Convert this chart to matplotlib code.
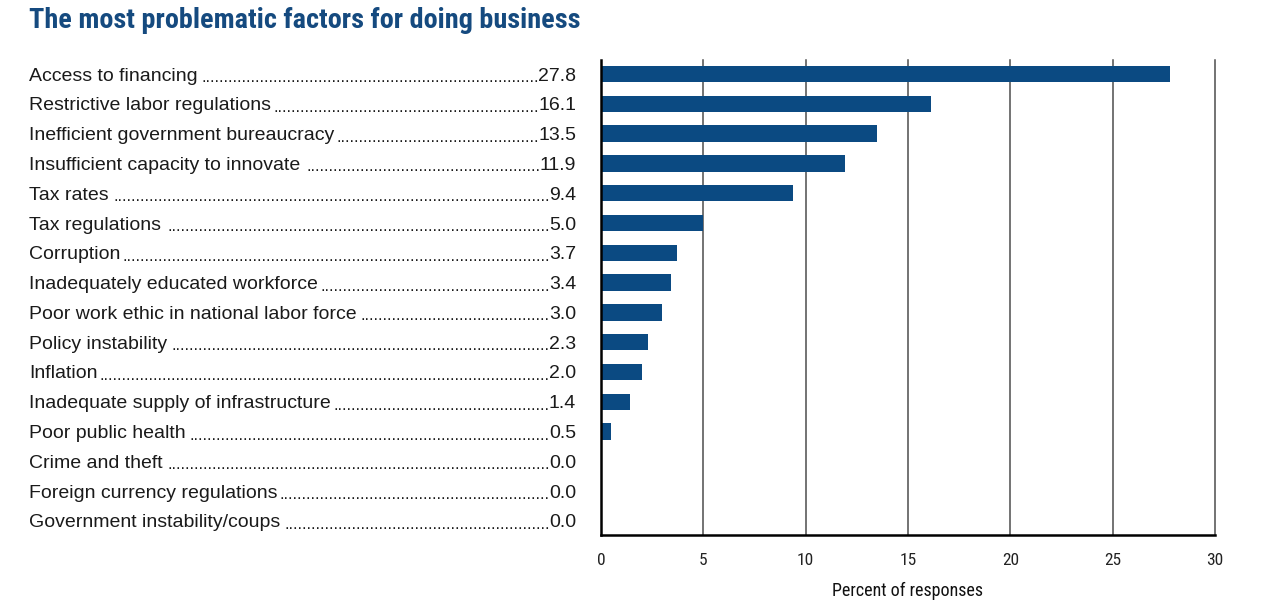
import matplotlib
matplotlib.use("Agg")
import matplotlib.pyplot as plt
from matplotlib import font_manager as fm

categories = [
    "Access to financing",
    "Restrictive labor regulations",
    "Inefficient government bureaucracy",
    "Insufficient capacity to innovate",
    "Tax rates",
    "Tax regulations",
    "Corruption",
    "Inadequately educated workforce",
    "Poor work ethic in national labor force",
    "Policy instability",
    "Inflation",
    "Inadequate supply of infrastructure",
    "Poor public health",
    "Crime and theft",
    "Foreign currency regulations",
    "Government instability/coups",
]
values = [27.8, 16.1, 13.5, 11.9, 9.4, 5.0, 3.7, 3.4, 3.0, 2.3, 2.0, 1.4, 0.5, 0.0, 0.0, 0.0]
x_ticks = [0, 5, 10, 15, 20, 25, 30]

names = {f.name for f in fm.fontManager.ttflist}
if "Liberation Sans Narrow" in names:
    narrow = dict(fontfamily="Liberation Sans Narrow")
elif "Roboto Condensed" in names:
    narrow = dict(fontfamily="Roboto Condensed")
else:
    narrow = dict(fontfamily="DejaVu Sans", fontstretch="condensed")
regular = "Liberation Sans"

BLUE = "#0b4a82"
TXT = "#1a1a1a"
W, H = 1280, 616
fig = plt.figure(figsize=(W / 100, H / 100), dpi=100)
ax = fig.add_axes([601 / W, 1 - 535 / H, (1215 - 601) / W, (535 - 60) / H])

n = len(categories)
ys = list(range(n))
ax.barh(ys, values, height=0.55, color=BLUE, zorder=3)
ax.set_xlim(0, 30)
ax.set_ylim(n - 0.53, -0.47)
ax.set_xticks(x_ticks)
ax.set_xticklabels([str(t) for t in x_ticks], fontsize=12.5, color="#222222", **narrow)
ax.tick_params(axis="x", length=0, pad=13)
ax.set_yticks([])
for t in x_ticks[1:]:
    ax.axvline(t, color="#4d4d4d", lw=1.1, zorder=1, clip_on=False)
for s in ["top", "right"]:
    ax.spines[s].set_visible(False)
ax.spines["left"].set_linewidth(1.8)
ax.spines["bottom"].set_linewidth(1.8)
ax.spines["left"].set_zorder(4)
ax.set_xlabel("Percent of responses", fontsize=13, color="#111111", labelpad=10, **narrow)

# Title
title = fig.text(29 / W, 1 - 21 / H, "The most problematic factors for doing business",
                 fontweight="bold", fontsize=20, color="#154a7f",
                 ha="left", va="center", **narrow)

fig.canvas.draw()
r = fig.canvas.get_renderer()
tw = title.get_window_extent(r).width
target = 578 - 29
title.set_fontsize(20 * target / tw)

# Labels with dot leaders
lab_x = 29
val_x = 576
fs = 14
dfs = 12
dot_t = fig.text(0, 0, "." * 50, fontfamily=regular, fontsize=dfs)
fig.canvas.draw()
dot_w = dot_t.get_window_extent(r).width / 50
dot_t.remove()

for i, (c, v) in enumerate(zip(categories, values)):
    ypix = ax.transData.transform((0, i))[1] - 2
    yf = ypix / H
    lt = fig.text(lab_x / W, yf, c, fontfamily=regular, fontsize=fs, color=TXT,
                  ha="left", va="center")
    vt = fig.text(val_x / W, yf, f"{v:.1f}", fontfamily=regular, fontsize=fs, color=TXT,
                  ha="right", va="center")
    fig.canvas.draw()
    le = lt.get_window_extent(r)
    ve = vt.get_window_extent(r)
    gap = ve.x0 - le.x1 - 1
    nd = max(int(gap // dot_w), 0)
    fig.text((ve.x0 + 1) / W, yf - 1.5 / H, "." * nd, fontfamily=regular, fontsize=dfs, color=TXT,
             ha="right", va="center")

fig.savefig("out.png", dpi=100)
